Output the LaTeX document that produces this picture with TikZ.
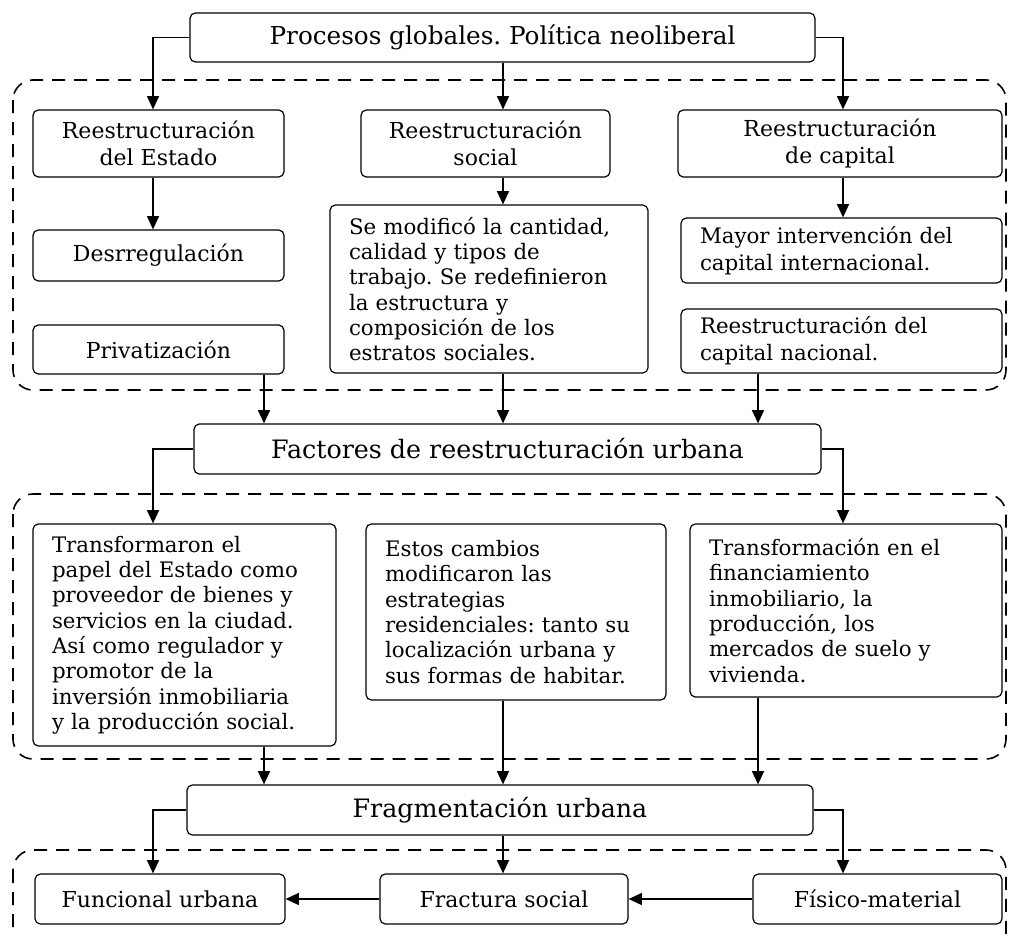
\documentclass[tikz,border=0pt]{standalone}
\usepackage{fontspec}
\setmainfont{DejaVu Serif}
\usetikzlibrary{arrows.meta}
\frenchspacing
\newcommand\bx[7]{\node[#6, minimum width={(#4-#2)*0.75pt}, minimum height={(#5-#3)*0.75pt}] (#1) at ({(#2+#4)/2},{(#3+#5)/2}) {#7};}
\newcommand\lbx[7]{\pgfmathsetmacro\tw{(#4-#2-38)*0.75}\node[lbox, #6, text width=\tw pt, minimum width={(#4-#2)*0.75pt}, minimum height={(#5-#3)*0.75pt}] (#1) at ({(#2+#4)/2},{(#3+#5)/2}) {#7};}
\begin{document}
\begin{tikzpicture}[x=0.75pt,y=-0.75pt,
  box/.style={draw, line width=0.9pt, rounded corners=4pt, inner sep=0pt, align=center, font=\fontsize{16.5}{20}\selectfont},
  lbox/.style={box, align=left, inner xsep=14.25pt, font=\fontsize{16}{19}\selectfont},
  arr/.style={line width=1.2pt, -{Triangle[length=10pt,width=9pt]}},
  group/.style={line width=1.2pt, dash pattern=on 9.75pt off 6.75pt, rounded corners=15pt}]
\useasboundingbox (0,0) rectangle (1009,935);
\fill[white] (0,0) rectangle (1009,935);
\clip (0,0) rectangle (1009,935);
% group frames
\draw[group] (13,80) rectangle (1006,390);
\draw[group] (13,494) rectangle (1006,759);
\draw[group] (13,850) rectangle (1006,975);
% column coordinates
\coordinate (colL) at (153,0);
\coordinate (colL2) at (264,0);
\coordinate (colM) at (503,0);
\coordinate (colR2) at (758,0);
\coordinate (colR) at (843,0);
% nodes
\bx{top}{190}{13}{815}{62}{box, font=\fontsize{18.5}{22}\selectfont}{Procesos globales. Política neoliberal}
\bx{estado}{33}{110}{284}{177}{box}{Reestructuración\\del Estado}
\bx{social}{361}{110}{610}{177}{box}{Reestructuración\\social}
\bx{capital}{678}{110}{1002}{177}{box}{Reestructuración\\de capital}
\bx{desr}{33}{230}{284}{281}{box}{Desrregulación}
\bx{priv}{33}{325}{284}{374}{box}{Privatización}
\lbx{semod}{330}{205}{648}{373}{}{Se modificó la cantidad,\\calidad y tipos de\\trabajo. Se redefinieron\\la estructura y\\composición de los\\estratos sociales.}
\lbx{mayor}{681}{218}{1002}{283}{font=\fontsize{16}{20}\selectfont}{Mayor intervención del\\capital internacional.}
\lbx{nacional}{681}{309}{1002}{373}{font=\fontsize{16}{20}\selectfont}{Reestructuración del\\capital nacional.}
\bx{factores}{194}{424}{821}{474}{box, font=\fontsize{19}{22}\selectfont}{Factores de reestructuración urbana}
\lbx{transf}{33}{524}{336}{746}{}{Transformaron el\\papel del Estado como\\proveedor de bienes y\\servicios en la ciudad.\\Así como regulador y\\promotor de la\\inversión inmobiliaria\\y la producción social.}
\lbx{estos}{366}{524}{666}{700}{}{Estos cambios\\modificaron las\\estrategias\\residenciales: tanto su\\localización urbana y\\sus formas de habitar.}
\lbx{tfin}{690}{524}{1002}{697}{}{Transformación en el\\financiamiento\\inmobiliario, la\\producción, los\\mercados de suelo y\\vivienda.}
\bx{frag}{187}{785}{813}{835}{box, font=\fontsize{19}{22}\selectfont}{Fragmentación urbana}
\bx{func}{35}{874}{285}{924}{box}{Funcional urbana}
\bx{fract}{380}{874}{628}{924}{box}{Fractura social}
\bx{fis}{753}{874}{1002}{924}{box}{Físico-material}
% connectors
\draw[arr] (top.west) -| (colL |- estado.north);
\draw[arr] (colM |- top.south) -- (colM |- social.north);
\draw[arr] (top.east) -| (colR |- capital.north);
\draw[arr] (colL |- estado.south) -- (colL |- desr.north);
\draw[arr] (colM |- social.south) -- (colM |- semod.north);
\draw[arr] (colR |- capital.south) -- (colR |- mayor.north);
\draw[arr] (colL2 |- priv.south) -- (colL2 |- factores.north);
\draw[arr] (colM |- semod.south) -- (colM |- factores.north);
\draw[arr] (colR2 |- nacional.south) -- (colR2 |- factores.north);
\draw[arr] (factores.west) -| (colL |- transf.north);
\draw[arr] (factores.east) -| (colR |- tfin.north);
\draw[arr] (colL2 |- transf.south) -- (colL2 |- frag.north);
\draw[arr] (colM |- estos.south) -- (colM |- frag.north);
\draw[arr] (colR2 |- tfin.south) -- (colR2 |- frag.north);
\draw[arr] (frag.west) -| (colL |- func.north);
\draw[arr] (colM |- frag.south) -- (colM |- fract.north);
\draw[arr] (frag.east) -| (colR |- fis.north);
\draw[arr] (fis.west) -- (fract.east);
\draw[arr] (fract.west) -- (func.east);
\end{tikzpicture}
\end{document}
